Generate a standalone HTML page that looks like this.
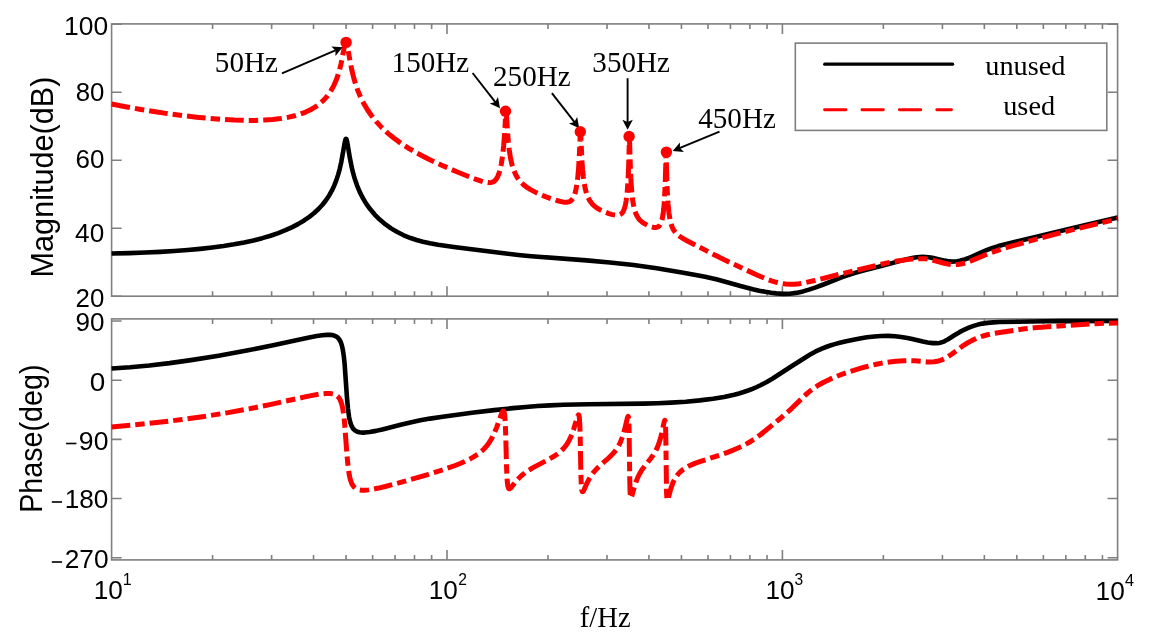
<!DOCTYPE html><html><head><meta charset="utf-8"><style>html,body{margin:0;padding:0;background:#fff;}svg{display:block;will-change:transform}</style></head><body>
<svg width="1152" height="640" viewBox="0 0 1152 640">
<rect width="1152" height="640" fill="#fff"/>
<g fill="none" stroke="#7f7f7f" stroke-width="1.6">
<rect x="111.6" y="23.9" width="1005.9999999999999" height="272.3"/>
<rect x="111.6" y="318.9" width="1005.9999999999999" height="241.0"/>
<path d="M111.6,24.20h10M1117.6,24.20h-10M111.6,92.20h10M1117.6,92.20h-10M111.6,160.20h10M1117.6,160.20h-10M111.6,228.20h10M1117.6,228.20h-10M111.6,296.20h10M1117.6,296.20h-10M212.57,23.9v5M212.57,296.2v-5M271.63,23.9v5M271.63,296.2v-5M313.53,23.9v5M313.53,296.2v-5M346.03,23.9v5M346.03,296.2v-5M372.59,23.9v5M372.59,296.2v-5M395.05,23.9v5M395.05,296.2v-5M414.50,23.9v5M414.50,296.2v-5M431.65,23.9v5M431.65,296.2v-5M447.00,23.9v10M447.00,296.2v-10M547.97,23.9v5M547.97,296.2v-5M607.03,23.9v5M607.03,296.2v-5M648.93,23.9v5M648.93,296.2v-5M681.43,23.9v5M681.43,296.2v-5M707.99,23.9v5M707.99,296.2v-5M730.45,23.9v5M730.45,296.2v-5M749.90,23.9v5M749.90,296.2v-5M767.05,23.9v5M767.05,296.2v-5M782.40,23.9v10M782.40,296.2v-10M883.37,23.9v5M883.37,296.2v-5M942.43,23.9v5M942.43,296.2v-5M984.33,23.9v5M984.33,296.2v-5M1016.83,23.9v5M1016.83,296.2v-5M1043.39,23.9v5M1043.39,296.2v-5M1065.85,23.9v5M1065.85,296.2v-5M1085.30,23.9v5M1085.30,296.2v-5M1102.45,23.9v5M1102.45,296.2v-5M111.6,321.03h10M1117.6,321.03h-10M111.6,380.20h10M1117.6,380.20h-10M111.6,439.37h10M1117.6,439.37h-10M111.6,498.53h10M1117.6,498.53h-10M111.6,557.70h10M1117.6,557.70h-10M212.57,318.9v5M212.57,559.9v-5M271.63,318.9v5M271.63,559.9v-5M313.53,318.9v5M313.53,559.9v-5M346.03,318.9v5M346.03,559.9v-5M372.59,318.9v5M372.59,559.9v-5M395.05,318.9v5M395.05,559.9v-5M414.50,318.9v5M414.50,559.9v-5M431.65,318.9v5M431.65,559.9v-5M447.00,318.9v10M447.00,559.9v-10M547.97,318.9v5M547.97,559.9v-5M607.03,318.9v5M607.03,559.9v-5M648.93,318.9v5M648.93,559.9v-5M681.43,318.9v5M681.43,559.9v-5M707.99,318.9v5M707.99,559.9v-5M730.45,318.9v5M730.45,559.9v-5M749.90,318.9v5M749.90,559.9v-5M767.05,318.9v5M767.05,559.9v-5M782.40,318.9v10M782.40,559.9v-10M883.37,318.9v5M883.37,559.9v-5M942.43,318.9v5M942.43,559.9v-5M984.33,318.9v5M984.33,559.9v-5M1016.83,318.9v5M1016.83,559.9v-5M1043.39,318.9v5M1043.39,559.9v-5M1065.85,318.9v5M1065.85,559.9v-5M1085.30,318.9v5M1085.30,559.9v-5M1102.45,318.9v5M1102.45,559.9v-5"/>
</g>
<g fill="none" stroke-linejoin="round">
<path d="M111.60,253.49L129.21,253.08 145.28,252.54 160.25,251.86 174.29,251.03 187.62,250.03 200.22,248.86 212.17,247.52 223.49,246.00 234.13,244.31 244.09,242.45 253.47,240.40 262.28,238.15 270.53,235.71 278.25,233.06 285.47,230.20 292.29,227.09 298.43,223.88 304.11,220.47 309.34,216.86 314.15,213.03 318.50,209.00 322.42,204.76 325.97,200.25 329.17,195.44 331.81,190.72 334.17,185.71 336.28,180.35 338.17,174.60 339.81,168.57 341.29,161.96 344.94,141.52 345.52,139.43 345.77,138.95 346.02,138.79 346.30,138.99 346.60,139.64 347.23,142.17 349.89,158.04 351.58,166.60 353.09,172.92 354.77,178.86 357.09,185.60 359.70,191.86 362.67,197.77 365.99,203.32 370.12,209.11 374.70,214.52 379.73,219.54 385.21,224.18 391.05,228.35 397.24,232.06 403.75,235.29 410.62,238.05 416.55,239.99 422.94,241.70 429.96,243.23 438.04,244.68 455.70,247.21 503.84,253.29 518.31,254.97 531.26,256.21 586.45,260.40 609.92,262.46 633.57,265.08 656.68,268.26 681.86,272.40 695.72,274.90 705.11,276.75 717.21,279.58 740.48,286.08 752.80,289.21 759.24,290.64 765.35,291.82 771.14,292.76 776.25,293.40 783.34,293.85 789.85,293.69 796.12,292.89 802.93,291.40 809.02,289.65 815.76,287.38 822.76,284.78 842.23,277.20 848.19,275.07 853.62,273.32 862.48,270.84 882.00,265.89 901.57,260.52 907.96,258.96 913.42,257.85 916.79,257.33 919.86,257.02 922.75,256.90 925.54,256.98 928.74,257.30 932.23,257.86 944.53,260.62 949.31,261.41 951.95,261.60 954.49,261.56 957.16,261.29 959.93,260.78 963.47,259.84 967.27,258.52 971.45,256.80 981.41,252.25 986.57,250.06 992.55,247.85 998.31,246.10 1028.27,238.71 1065.73,229.67 1093.07,223.24 1117.80,217.61" stroke="#000" stroke-width="4.6"/>
<path d="M111.60,103.94L125.41,106.68 139.50,109.24 153.78,111.58 168.17,113.71 182.54,115.59 196.57,117.19 210.08,118.48 222.89,119.45 234.38,120.07 245.10,120.38 255.03,120.39 264.24,120.09 272.74,119.49 280.62,118.58 287.89,117.36 294.60,115.81 300.36,114.08 305.67,112.07 310.55,109.76 315.00,107.15 319.08,104.23 322.80,100.97 326.17,97.37 329.24,93.38 331.76,89.41 334.05,85.07 336.11,80.34 337.97,75.17 339.60,69.66 341.11,63.51 344.86,44.37 345.49,42.35 345.77,41.93 346.04,41.84 346.35,42.13 346.65,42.82 347.30,45.41 350.12,61.63 351.91,70.46 353.57,77.26 355.38,83.51 357.84,90.60 360.66,97.31 363.85,103.70 367.43,109.75 371.73,115.96 376.53,121.91 381.84,127.59 387.70,133.06 394.09,138.30 401.08,143.38 408.71,148.31 417.06,153.15 428.28,158.99 441.18,165.05 456.83,171.79 472.52,178.07 480.47,180.88 483.42,181.74 485.91,182.31 488.04,182.61 489.91,182.64 491.54,182.41 493.00,181.91 494.38,181.06 495.62,179.89 496.75,178.36 497.80,176.40 498.76,174.08 499.67,171.25 500.50,168.01 501.28,164.23 502.56,155.95 503.64,145.98 504.55,134.21 505.68,114.81 505.88,112.51 506.08,111.70 506.26,112.39 506.46,114.54 507.51,131.53 508.29,141.30 509.20,149.56 510.28,156.74 511.69,163.45 513.40,169.24 515.44,174.15 516.60,176.33 517.88,178.38 519.41,180.46 521.12,182.42 523.01,184.26 525.12,186.03 527.46,187.72 530.08,189.38 536.22,192.65 540.64,194.66 545.55,196.65 550.76,198.57 555.66,200.17 559.51,201.25 562.65,201.92 565.25,202.21 567.38,202.14 569.07,201.74 570.53,201.01 571.79,199.92 572.89,198.46 573.90,196.52 574.78,194.17 575.58,191.29 576.31,187.85 577.52,179.64 578.53,168.86 579.31,156.00 580.21,134.67 580.49,131.93 580.74,134.74 581.97,161.10 582.58,169.41 583.26,176.31 584.16,183.01 585.24,188.70 586.50,193.41 587.99,197.36 589.85,200.86 592.11,203.85 594.88,206.46 598.30,208.83 600.64,210.13 603.23,211.37 608.91,213.57 611.53,214.35 613.84,214.87 615.86,215.14 617.57,215.15 619.28,214.85 620.71,214.19 621.94,213.15 623.03,211.67 623.96,209.74 624.79,207.27 625.52,204.26 626.17,200.58 627.25,191.31 628.08,179.27 628.64,166.29 629.32,140.90 629.49,137.86 630.27,164.62 630.80,177.68 631.58,189.82 632.61,199.64 633.21,203.60 633.92,207.20 634.70,210.27 635.60,213.00 636.61,215.34 637.77,217.39 639.10,219.22 640.66,220.87 643.58,223.16 647.20,225.18 651.20,226.75 652.99,227.22 654.57,227.46 655.75,227.48 656.81,227.33 657.74,227.01 658.57,226.52 659.32,225.83 660.00,224.94 661.16,222.57 662.14,219.20 662.97,214.75 663.68,209.10 664.28,202.06 665.16,184.84 666.09,153.08 666.85,179.68 667.30,191.46 668.00,203.23 668.88,212.34 670.04,219.69 670.72,222.65 671.50,225.27 672.38,227.56 673.41,229.63 674.57,231.44 675.93,233.11 677.71,234.84 679.88,236.53 682.54,238.27 685.91,240.20 716.83,256.09 729.71,262.37 757.48,275.19 766.26,278.91 771.49,280.80 776.40,282.27 781.02,283.34 785.48,284.02 790.01,284.34 794.46,284.24 799.31,283.70 805.12,282.68 814.71,280.55 840.47,274.01 868.16,267.52 887.25,262.90 892.16,261.87 897.12,260.99 909.04,259.38 913.87,258.90 917.99,258.66 921.77,258.63 925.26,258.83 928.43,259.22 931.63,259.85 944.18,263.24 949.51,264.33 952.33,264.63 955.00,264.67 957.76,264.47 960.68,264.01 964.98,262.95 969.79,261.34 985.71,254.75 994.16,251.59 1002.77,248.75 1013.03,245.69 1038.16,238.66 1057.63,233.50 1072.19,229.87 1117.80,218.87" stroke="#f00" stroke-width="5" stroke-dasharray="18.7 5.05 9.4 5.05"/>
<path d="M111.60,368.50L130.06,367.28 149.33,365.48 169.56,363.11 190.96,360.12 218.61,355.67 248.09,350.32 271.94,345.57 306.75,338.04 316.71,336.09 322.27,335.24 326.75,334.84 330.37,334.87 333.34,335.32 335.18,335.95 336.76,336.83 338.12,337.98 339.30,339.45 340.33,341.25 341.24,343.45 342.02,346.04 342.72,349.16 343.73,355.59 344.64,364.27 346.95,397.28 347.91,408.23 349.11,417.15 349.82,420.59 350.60,423.41 351.55,425.91 352.66,427.94 353.94,429.54 355.45,430.79 357.21,431.69 359.30,432.29 361.74,432.58 364.58,432.58 369.64,432.06 376.00,430.88 382.34,429.41 400.68,424.78 410.32,422.49 420.33,420.36 430.04,418.61 442.64,416.73 473.81,412.59 494.26,410.14 513.00,408.13 525.85,406.95 537.52,406.07 550.03,405.35 563.43,404.79 588.31,404.20 643.00,403.64 657.64,403.25 670.92,402.67 685.79,401.70 699.75,400.40 713.01,398.77 724.05,396.96 734.21,394.73 738.99,393.45 743.62,392.04 748.12,390.50 752.50,388.82 756.78,387.00 760.98,385.02 766.79,381.95 773.10,378.20 791.54,366.22 809.73,354.75 815.69,351.45 821.90,348.59 825.98,346.99 830.25,345.52 834.81,344.15 839.76,342.83 846.20,341.33 854.73,339.53 861.24,338.29 867.03,337.34 874.48,336.42 881.37,335.94 888.26,335.89 895.13,336.25 901.27,336.93 907.38,337.94 912.21,338.98 922.75,341.56 927.70,342.54 932.66,343.14 936.83,343.17 939.00,342.93 941.04,342.51 943.00,341.90 944.88,341.09 947.75,339.50 954.80,334.95 959.52,332.15 964.53,329.54 969.41,327.39 973.66,325.84 977.99,324.60 982.54,323.62 987.40,322.89 993.11,322.35 999.70,322.05 1045.38,321.29 1062.46,321.14 1117.80,320.98" stroke="#000" stroke-width="4.6"/>
<path d="M111.60,426.94L135.62,424.80 159.17,422.33 182.03,419.55 204.15,416.45 228.19,412.60 251.86,408.27 269.88,404.61 304.92,396.91 316.19,394.67 321.82,393.81 326.35,393.40 330.02,393.42 333.01,393.88 334.85,394.50 336.46,395.38 337.84,396.53 339.05,397.99 340.11,399.79 341.04,401.98 341.84,404.55 342.57,407.66 343.63,414.11 344.56,422.57 347.00,455.22 348.01,466.07 349.24,474.75 349.94,478.08 350.75,480.93 351.73,483.45 352.86,485.50 354.17,487.12 355.68,488.36 357.46,489.28 359.53,489.88 361.94,490.19 364.79,490.20 368.61,489.88 373.16,489.17 378.65,488.06 385.26,486.50 404.13,481.45 427.80,474.56 443.17,469.72 455.12,465.50 460.17,463.50 464.70,461.54 468.75,459.60 472.40,457.64 477.68,454.28 479.99,452.53 482.16,450.69 484.15,448.77 486.01,446.74 487.74,444.58 489.38,442.27 491.87,438.11 494.18,433.40 496.75,427.07 501.48,413.80 502.56,411.60 503.01,411.08 503.39,410.95 503.72,411.16 503.99,411.66 504.47,413.58 504.87,416.93 505.20,421.66 505.68,433.98 506.56,467.82 507.16,480.35 507.54,484.20 508.02,486.87 508.62,488.38 508.97,488.73 509.38,488.83 510.13,488.52 511.09,487.61 515.89,481.48 518.96,478.05 521.93,475.25 525.17,472.64 528.82,470.12 533.02,467.60 548.11,459.68 553.65,456.49 556.44,454.64 558.91,452.80 561.15,450.87 563.16,448.88 565.30,446.38 567.21,443.69 568.97,440.72 570.58,437.46 572.04,433.95 573.45,429.98 577.42,416.77 578.05,415.29 578.33,414.93 578.55,414.83 578.78,415.01 578.98,415.47 579.33,417.36 579.86,425.44 580.19,437.21 580.82,471.48 581.22,483.52 581.77,489.85 582.15,491.33 582.38,491.69 582.63,491.80 583.13,491.45 583.81,490.32 587.05,483.04 589.14,478.95 591.15,475.64 593.37,472.59 595.78,469.75 598.58,466.90 608.31,458.25 611.81,454.87 615.10,451.07 617.82,447.11 619.13,444.78 620.33,442.30 622.52,436.68 624.49,430.02 627.30,418.30 627.78,416.88 628.13,416.46 628.46,417.12 628.71,419.03 629.09,427.79 629.69,476.44 629.97,489.85 630.35,496.25 630.60,497.64 630.90,498.04 631.28,497.58 631.76,496.28 634.20,487.46 635.81,482.42 637.41,478.28 639.20,474.51 641.09,471.20 643.28,467.92 650.67,458.47 653.19,454.97 655.45,451.25 657.36,447.35 658.97,443.21 660.43,438.49 661.84,432.82 664.08,422.26 664.53,420.72 664.86,420.28 665.16,421.00 665.39,422.97 665.71,431.15 666.54,492.13 666.87,498.29 667.10,499.78 667.40,500.29 667.73,499.89 668.15,498.68 670.22,490.84 671.53,486.54 672.81,483.08 674.22,480.00 676.03,476.87 678.07,474.14 680.40,471.70 683.07,469.51 685.49,467.90 688.23,466.36 691.30,464.90 694.84,463.43 701.38,461.10 721.43,454.54 727.55,452.32 733.23,450.07 738.16,447.93 742.76,445.76 746.84,443.65 750.64,441.47 755.49,438.31 760.72,434.44 781.18,417.72 786.91,412.75 792.04,408.08 805.68,394.75 808.67,392.14 811.74,389.71 817.20,385.95 823.16,382.50 830.05,379.14 838.05,375.76 843.86,373.58 850.05,371.47 856.94,369.31 864.21,367.21 870.43,365.58 876.29,364.21 881.85,363.08 887.20,362.20 895.83,361.19 904.46,360.72 909.67,360.69 914.85,360.86 926.87,361.89 930.14,362.05 934.29,361.81 938.39,360.99 940.71,360.26 943.02,359.34 945.31,358.23 947.60,356.93 951.95,354.00 960.28,347.75 963.70,345.32 967.85,342.71 972.10,340.40 977.06,338.15 982.19,336.27 987.52,334.75 993.46,333.46 999.65,332.43 1022.94,329.04 1028.55,328.33 1034.26,327.78 1090.05,323.90 1104.74,323.27 1117.80,323.11" stroke="#f00" stroke-width="5" stroke-dasharray="18.7 5.05 9.4 5.05"/>
</g>
<path d="M282.00,73.40L335.90,50.19" stroke="#000" stroke-width="1.9" fill="none"/><path d="M342.60,47.30L335.47,56.03L335.44,50.39L331.36,46.48Z" fill="#000"/>
<path d="M472.60,73.00L495.52,102.44" stroke="#000" stroke-width="1.9" fill="none"/><path d="M500.00,108.20L489.75,103.50L495.21,102.04L497.96,97.11Z" fill="#000"/>
<path d="M551.90,93.20L574.71,122.44" stroke="#000" stroke-width="1.9" fill="none"/><path d="M579.20,128.20L568.95,123.51L574.40,122.05L577.15,117.12Z" fill="#000"/>
<path d="M627.60,78.20L627.60,122.40" stroke="#000" stroke-width="1.9" fill="none"/><path d="M627.60,129.70L622.40,119.70L627.60,121.90L632.80,119.70Z" fill="#000"/>
<path d="M719.50,131.70L679.45,148.22" stroke="#000" stroke-width="1.9" fill="none"/><path d="M672.70,151.00L679.96,142.38L679.91,148.03L683.93,151.99Z" fill="#000"/>
<circle cx="346.1" cy="42.4" r="5.7" fill="#f00"/>
<circle cx="505.5" cy="111.2" r="5.7" fill="#f00"/>
<circle cx="580.3" cy="131.8" r="5.7" fill="#f00"/>
<circle cx="629.1" cy="136.5" r="5.7" fill="#f00"/>
<circle cx="666.4" cy="152.1" r="5.7" fill="#f00"/>
<rect x="795.3" y="43.1" width="311.5" height="87.3" fill="#fff" stroke="#7f7f7f" stroke-width="1.6"/>
<path d="M824.7,64.15H952.6" stroke="#000" stroke-width="3.2" stroke-linecap="round"/>
<path d="M824.55,109.7H951.45" stroke="#f00" stroke-width="2.9" stroke-linecap="round" stroke-dasharray="21.4 16"/>
<text transform="translate(64.09,34.50) scale(1.0555,1)" font-family="Liberation Sans" font-size="25.00" fill="#000">100</text>
<text transform="translate(75.67,100.95) scale(1.0359,1)" font-family="Liberation Sans" font-size="24.93" fill="#000">80</text>
<text transform="translate(75.60,168.45) scale(1.0363,1)" font-family="Liberation Sans" font-size="25.07" fill="#000">60</text>
<text transform="translate(75.08,242.25) scale(1.0447,1)" font-family="Liberation Sans" font-size="25.07" fill="#000">40</text>
<text transform="translate(75.61,306.95) scale(1.0382,1)" font-family="Liberation Sans" font-size="24.93" fill="#000">20</text>
<text transform="translate(75.40,330.75) scale(1.0344,1)" font-family="Liberation Sans" font-size="25.21" fill="#000">90</text>
<text transform="translate(89.78,390.74) scale(1.0861,1)" font-family="Liberation Sans" font-size="25.70" fill="#000">0</text>
<text transform="translate(78.87,449.65) scale(1.0598,1)" font-family="Liberation Sans" font-size="25.07" fill="#000">90</text>
<rect x="66.1" y="442.7" width="10.3" height="1.6" fill="#000"/>
<text transform="translate(64.70,508.05) scale(1.0507,1)" font-family="Liberation Sans" font-size="24.93" fill="#000">180</text>
<rect x="51.8" y="501.2" width="10.2" height="1.6" fill="#000"/>
<text transform="translate(64.69,568.34) scale(1.0191,1)" font-family="Liberation Sans" font-size="25.77" fill="#000">270</text>
<rect x="51.8" y="561.2" width="10.3" height="1.6" fill="#000"/>
<text transform="translate(93.71,598.64) scale(1.0150,1)" font-family="Liberation Sans" font-size="25.77" fill="#000">10</text>
<text transform="translate(122.82,585.00) scale(0.9304,1)" font-family="Liberation Sans" font-size="17.25" fill="#000">1</text>
<text transform="translate(428.71,598.64) scale(1.0040,1)" font-family="Liberation Sans" font-size="26.06" fill="#000">10</text>
<text transform="translate(458.22,585.10) scale(0.9207,1)" font-family="Liberation Sans" font-size="17.00" fill="#000">2</text>
<text transform="translate(765.41,598.64) scale(1.0150,1)" font-family="Liberation Sans" font-size="25.77" fill="#000">10</text>
<text transform="translate(794.38,585.03) scale(0.9114,1)" font-family="Liberation Sans" font-size="17.04" fill="#000">3</text>
<text transform="translate(1095.60,599.84) scale(1.0245,1)" font-family="Liberation Sans" font-size="25.63" fill="#000">10</text>
<text transform="translate(1124.97,586.06) scale(0.9970,1)" font-family="Liberation Sans" font-size="16.32" fill="#000">4</text>
<text transform="translate(53.37,277.45) rotate(-90)" font-family="Liberation Sans" font-size="30.64" fill="#000">Magnitude(dB)</text>
<text transform="translate(42.24,512.79) rotate(-90) scale(0.9328,1)" font-family="Liberation Sans" font-size="30.74" fill="#000">Phase(deg)</text>
<text transform="translate(579.84,626.61)" font-family="Liberation Serif" font-size="28.60" fill="#000">f/Hz</text>
<text transform="translate(214.85,72.33) scale(1.0150,1)" font-family="Liberation Serif" font-size="28.70" fill="#000">50Hz</text>
<text transform="translate(391.58,72.43) scale(1.0150,1)" font-family="Liberation Serif" font-size="28.70" fill="#000">150Hz</text>
<text transform="translate(493.03,85.83) scale(1.0150,1)" font-family="Liberation Serif" font-size="28.70" fill="#000">250Hz</text>
<text transform="translate(592.34,72.13) scale(1.0150,1)" font-family="Liberation Serif" font-size="28.70" fill="#000">350Hz</text>
<text transform="translate(698.22,128.03) scale(1.0150,1)" font-family="Liberation Serif" font-size="28.70" fill="#000">450Hz</text>
<text transform="translate(985.32,75.42)" font-family="Liberation Serif" font-size="28.30" fill="#000">unused</text>
<text transform="translate(1003.22,114.82)" font-family="Liberation Serif" font-size="28.30" fill="#000">used</text>
</svg></body></html>
